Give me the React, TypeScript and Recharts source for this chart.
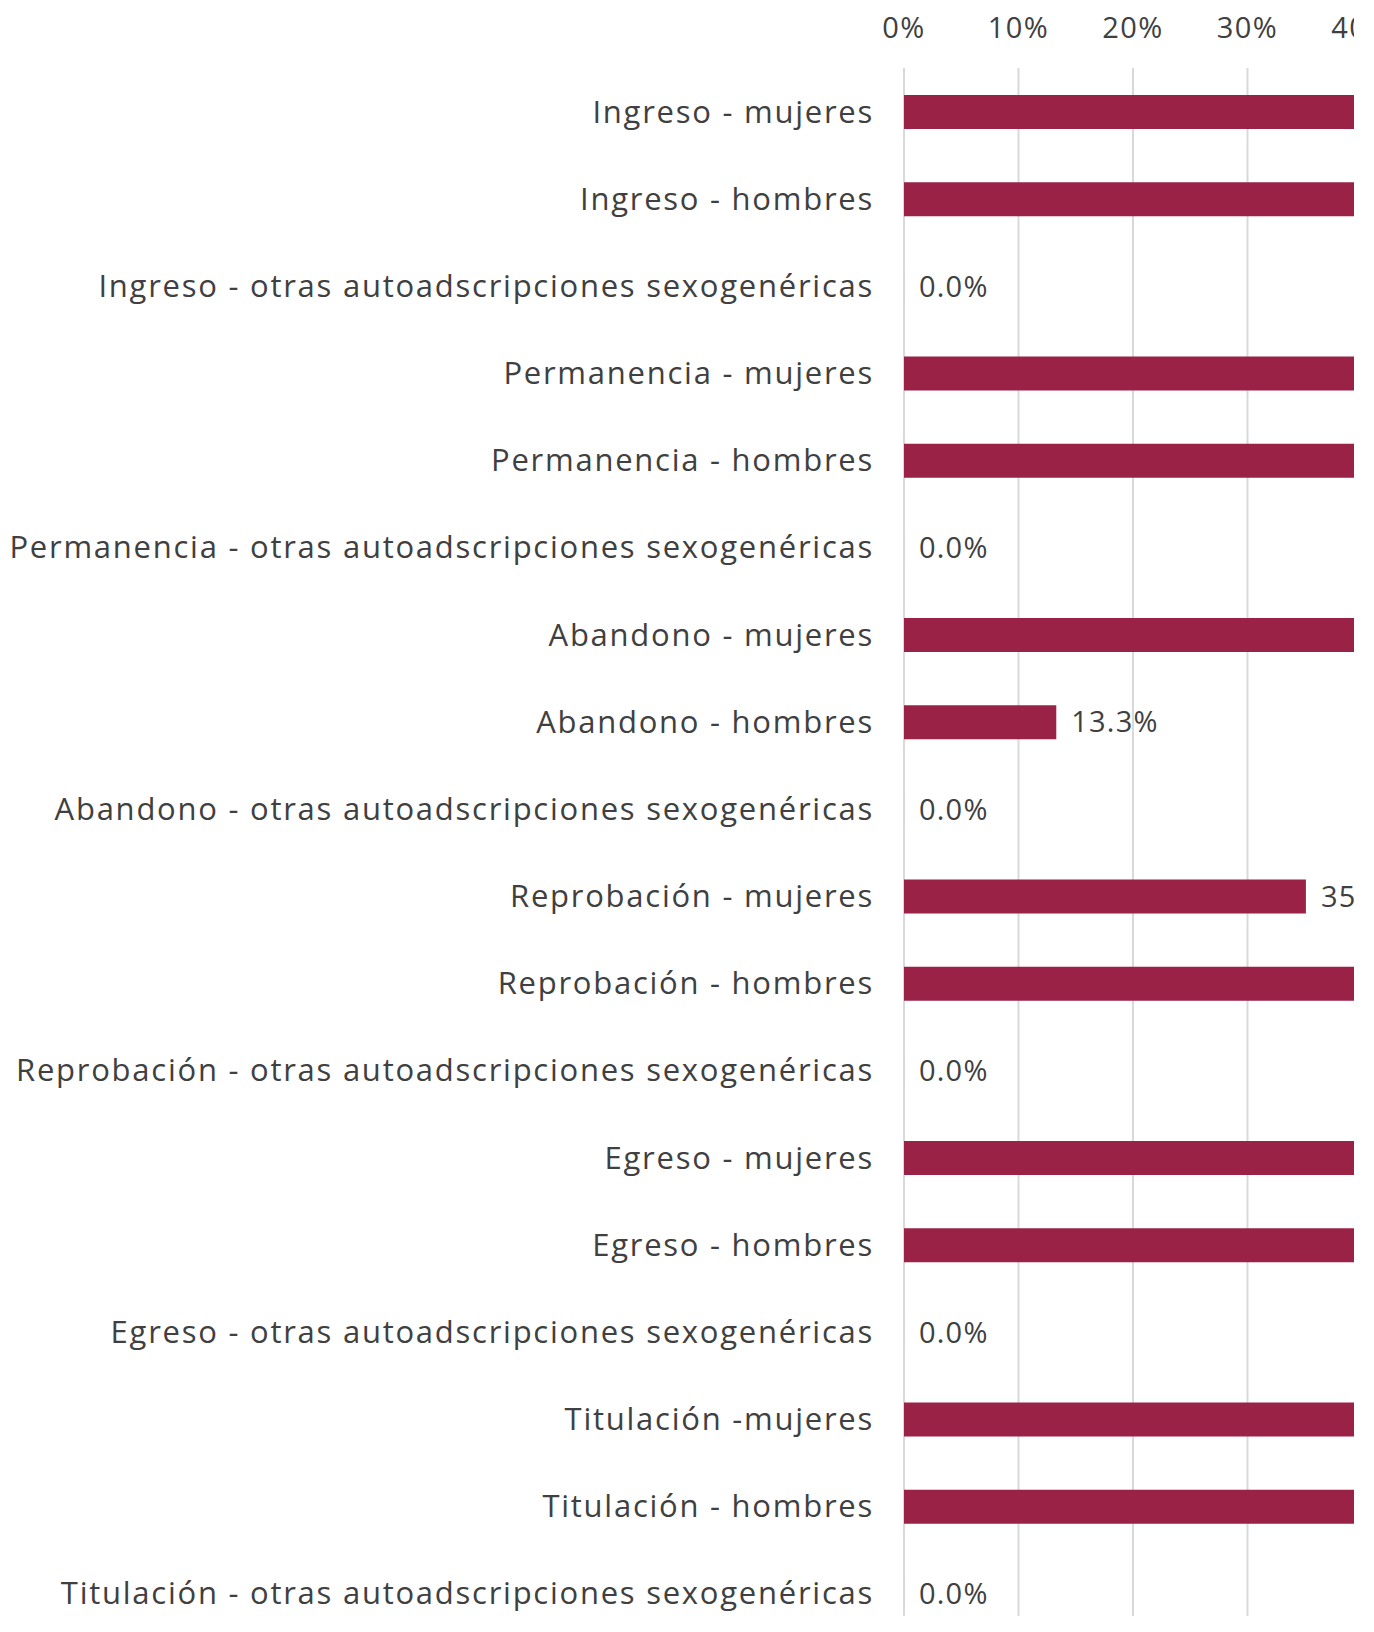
import { Bar, BarChart, CartesianGrid, LabelList, XAxis, YAxis } from "recharts";

const categories = [
  "Ingreso - mujeres",
  "Ingreso - hombres",
  "Ingreso - otras autoadscripciones sexogenéricas",
  "Permanencia - mujeres",
  "Permanencia - hombres",
  "Permanencia - otras autoadscripciones sexogenéricas",
  "Abandono - mujeres",
  "Abandono - hombres",
  "Abandono - otras autoadscripciones sexogenéricas",
  "Reprobación - mujeres",
  "Reprobación - hombres",
  "Reprobación - otras autoadscripciones sexogenéricas",
  "Egreso - mujeres",
  "Egreso - hombres",
  "Egreso - otras autoadscripciones sexogenéricas",
  "Titulación -mujeres",
  "Titulación - hombres",
  "Titulación - otras autoadscripciones sexogenéricas"
];

// shares; bars above ~40% are cut off in the picture, so those are estimates
const values = [
  0.524, 0.476, 0,
  0.531, 0.469, 0,
  0.867, 0.133, 0,
  0.351, 0.649, 0,
  0.56, 0.44, 0,
  0.571, 0.429, 0
];

const xTicks = [0, 0.1, 0.2, 0.3, 0.4, 0.5, 0.6, 0.7, 0.8, 0.9, 1];

const data = categories.map((name, i) => ({ name, value: values[i] }));

const textColor = "#404040";
const fontSize = 29;

export default function App() {
  return (
    <div
      style={{
        width: 1346,
        height: 1624,
        marginBottom: -16,
        overflow: "hidden",
        fontFamily: "'Open Sans', sans-serif"
      }}
    >
      <BarChart
        width={2061}
        height={1629}
        data={data}
        layout="vertical"
        barSize={34}
        margin={{ top: 0, right: 20, bottom: 0, left: 0 }}
      >
        <CartesianGrid horizontal={false} stroke="#D9D9D9" strokeWidth={2} />
        <XAxis
          type="number"
          orientation="top"
          domain={[0, 1]}
          ticks={xTicks}
          height={60}
          axisLine={false}
          tickLine={false}
          tickSize={0}
          tickMargin={30}
          tickFormatter={(v) => `${Math.round(v * 100)}%`}
          tick={{ fontSize, fill: textColor, letterSpacing: "1.5px" }}
        />
        <YAxis
          type="category"
          dataKey="name"
          width={896}
          axisLine={false}
          tickLine={false}
          tickSize={0}
          tickMargin={30}
          interval={0}
          tick={{ fontSize: 31, fill: textColor, letterSpacing: "1.75px" }}
        />
        <Bar dataKey="value" fill="#9B2247" minPointSize={0.01} isAnimationActive={false}>
          <LabelList
            dataKey="value"
            position="right"
            offset={15}
            fill={textColor}
            fontSize={fontSize}
            letterSpacing="1.2px"
            formatter={(v) => `${(Number(v) * 100).toFixed(1)}%`}
          />
        </Bar>
      </BarChart>
    </div>
  );
}
